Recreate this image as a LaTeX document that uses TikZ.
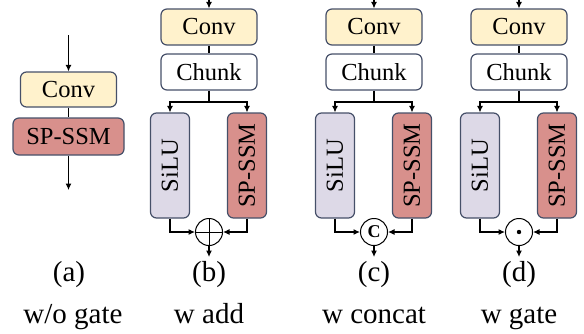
\documentclass[tikz,border=0pt]{standalone}
\usepackage{fontspec}
\setmainfont{Liberation Serif}
\newfontfamily\timesface{Liberation Serif}
\usetikzlibrary{arrows.meta}
\definecolor{convfill}{HTML}{FFF2CC}
\definecolor{ssmfill}{HTML}{D8908C}
\definecolor{silufill}{HTML}{DDD9E7}
\definecolor{edgecol}{HTML}{465069}
\begin{document}
\begin{tikzpicture}[x=1pt,y=-1pt,
  box/.style={draw=edgecol, line width=1.2pt, rounded corners=6pt, inner sep=0pt,
    font=\timesface\fontsize{24.5}{28}\selectfont},
  hbox/.style={box, minimum width=96pt, minimum height=36pt},
  vbox/.style={box, minimum width=39pt, minimum height=105pt},
  convbox/.style={hbox, fill=convfill},
  chunkbox/.style={hbox, fill=white},
  silubox/.style={vbox, fill=silufill},
  ssmbox/.style={vbox, fill=ssmfill},
  opnode/.style={circle, draw, line width=1pt, minimum size=27pt, inner sep=0pt},
  wire/.style={line width=1.1pt},
  flow/.style={wire, -{Latex[length=6.5pt,width=6pt]}},
  lbl/.style={font=\timesface\fontsize{29}{33}\selectfont, anchor=base},
]
\useasboundingbox (0,0) rectangle (584,333);

% (a) without gate
\coordinate (a-in) at (68.5,35);
\node[convbox, minimum width=96pt, minimum height=35pt] (a-conv) at (68.5,89.5) {Conv};
\node[box, fill=ssmfill, minimum width=111pt, minimum height=37pt] (a-ssm) at (68.5,136.5) {SP-SSM};
\coordinate (a-out) at (68.5,190);
\draw[flow] (a-in) -- (a-conv.north);
\draw[wire] (a-conv.south) -- (a-ssm.north);
\draw[flow] (a-ssm.south) -- (a-out);
\node[lbl] (a-lab) at (69,281) {(a)};
\node[lbl] (a-name) at (73,323) {w/o gate};

% gated variants (b), (c), (d)
\foreach \nm/\cx/\txt in {b/209/w add, c/374/w concat, d/519/w gate}{
  \coordinate (\nm-in) at (\cx,0);
  \node[convbox] (\nm-conv) at (\cx,27) {Conv};
  \node[chunkbox] (\nm-chunk) at (\cx,72) {Chunk};
  \coordinate (\nm-split) at (\cx,102);
  \node[silubox] (\nm-silu) at (\cx-39,165.5) {\rotatebox{90}{SiLU}};
  \node[ssmbox] (\nm-ssm) at (\cx+38,165.5) {\rotatebox{90}{SP-SSM}};
  \node[opnode] (\nm-op) at (\cx,232) {};
  \coordinate (\nm-out) at (\cx,257);
  \draw[flow] (\nm-in) -- (\nm-conv.north);
  \draw[wire] (\nm-conv.south) -- (\nm-chunk.north);
  \draw[wire] (\nm-chunk.south) -- (\nm-split);
  \draw[flow] (\nm-split) -| (\nm-silu.north);
  \draw[flow] (\nm-split) -| (\nm-ssm.north);
  \draw[flow] (\nm-silu.south) |- (\nm-op.west);
  \draw[flow] (\nm-ssm.south) |- (\nm-op.east);
  \draw[flow] (\nm-op.south) -- (\nm-out);
  \node[lbl] (\nm-lab) at (\cx,281) {(\nm)};
  \node[lbl] (\nm-name) at (\cx,323) {\txt};
}

% operator symbols
\draw[line width=0.9pt] (b-op.north) -- (b-op.south) (b-op.west) -- (b-op.east);
\node[font=\timesface\bfseries\fontsize{18}{20}\selectfont, inner sep=0pt] (c-sym) at (c-op.center) {C};
\fill (d-op.center) circle (2.2pt);
\end{tikzpicture}
\end{document}
